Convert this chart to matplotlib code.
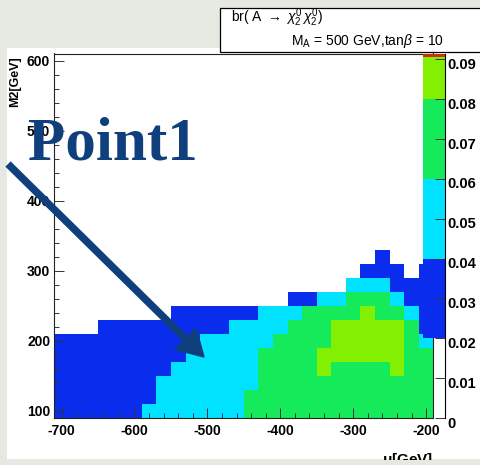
import numpy as np
import matplotlib
matplotlib.use("Agg")
import matplotlib.pyplot as plt
from matplotlib.colors import ListedColormap, BoundaryNorm
from matplotlib.patches import Rectangle, Polygon
from matplotlib.lines import Line2D
from matplotlib.transforms import ScaledTranslation

# ---------------- data ----------------
mu_centers = [-700, -680, -660, -640, -620, -600, -580, -560, -540, -520,
              -500, -480, -460, -440, -420, -400, -380, -360, -340, -320,
              -300, -280, -260, -240, -220, -200]
m2_centers = [100, 120, 140, 160, 180, 200, 220, 240, 260, 280,
              300, 320, 340, 360, 380, 400, 420, 440, 460, 480,
              500, 520, 540, 560, 580, 600]
# estimated branching ratio per colour band
band_value = {".": np.nan, "B": 0.030, "C": 0.050, "G": 0.070, "Y": 0.085}
# rows from M2 = 100 (bottom) upward, columns from mu = -700 to -200
br_rows = [
    "BBBBBBCCCCCCCGGGGGGGGGGGGG",
    "BBBBBBBCCCCCCGGGGGGGGGGGGG",
    "BBBBBBBCCCCCCCGGGGGGGGGGGG",
    "BBBBBBBBCCCCCCGGGGYGGGGYGG",
    "BBBBBBBBBCCCCCGGGGYYYYYYGG",
    "BBBBBBBBBBCCCCCGGGGYYYYYGC",
    "...BBBBBBBBBCCCCGGGYYYYYGB",
    "........BBBBBBCCCGGGGYGGCB",
    "................BBCCGGGCBB",
    "....................CCCBBB",
    ".....................BBB.B",
    "......................B...",
] + ["." * 26] * 14

cb_levels = [0.0, 0.02, 0.04, 0.06, 0.08, 0.0905, 0.0915]
cb_colors = ["#0a2ced", "#00e2ff", "#14ea5a", "#82f000", "#c83200"]
x_ticks = [-700, -600, -500, -400, -300, -200]
y_ticks = [100, 200, 300, 400, 500, 600]
cb_ticks = [0.0, 0.01, 0.02, 0.03, 0.04, 0.05, 0.06, 0.07, 0.08, 0.09]
cb_ticklabels = ["0", "0.01", "0.02", "0.03", "0.04", "0.05", "0.06", "0.07", "0.08", "0.09"]

# ---------------- style ----------------
plt.rcParams["font.family"] = ["Liberation Sans", "DejaVu Sans"]
plt.rcParams["mathtext.fontset"] = "custom"
plt.rcParams["mathtext.rm"] = "Liberation Sans"
plt.rcParams["mathtext.it"] = "Liberation Sans:italic"
plt.rcParams["mathtext.bf"] = "Liberation Sans:bold"

W, H, DPI = 481, 465, 100
BG = "#e6e9e2"
fig = plt.figure(figsize=(W / DPI, H / DPI), dpi=DPI, facecolor=BG)


def fp(x, y):
    return (x / W, 1 - y / H)


# white canvas area and title box
fig.add_artist(Rectangle(fp(7, 459), (W - 7) / W, (459 - 48) / H, transform=fig.transFigure,
                         facecolor="white", edgecolor="none", zorder=-10))
fig.add_artist(Rectangle(fp(220, 51.7), 270 / W, (51.7 - 8.3) / H, transform=fig.transFigure,
                         facecolor="white", edgecolor="black", lw=0.9, zorder=1))

# main axes
L, R, T, B = 54.3, 433.4, 53.5, 418.0
ax = fig.add_axes([L / W, 1 - B / H, (R - L) / W, (B - T) / H])
mu_c = np.array(mu_centers, float)
m2_c = np.array(m2_centers, float)
mu_edges = np.concatenate([[mu_c[0] - 10], mu_c + 10])
m2_edges = np.concatenate([[m2_c[0] - 10], m2_c + 10])
br = np.array([[band_value[c] for c in row] for row in br_rows])
cmap = ListedColormap(cb_colors)
norm = BoundaryNorm(cb_levels[1:], cmap.N)
ax.pcolormesh(mu_edges, m2_edges, np.ma.masked_invalid(br), cmap=cmap, norm=norm)
ax.set_xlim(mu_edges[0], mu_edges[-1])
ax.set_ylim(m2_edges[0], m2_edges[-1])
ax.set_xticks(x_ticks)
ax.set_yticks(y_ticks)
ax.set_xticks(np.arange(-700, -199, 20), minor=True)
ax.set_yticks(np.arange(100, 601, 20), minor=True)
ax.set_xticklabels([str(v) for v in x_ticks], fontweight="bold", fontsize=10)
ax.set_yticklabels([str(v) for v in y_ticks], fontweight="bold", fontsize=10)
ax.tick_params(which="major", direction="in", length=7.2, width=0.7, pad=3, color="#333333")
ax.tick_params(which="minor", direction="in", length=3.6, width=0.7, color="#333333")
ax.tick_params(axis="x", pad=4)
for s in ax.spines.values():
    s.set_linewidth(0.8)
    s.set_color("#222222")

# colour palette axis
cax = fig.add_axes([423 / W, 1 - B / H, 22 / W, (B - T) / H])
cb_mid = np.array([np.nan] + [(cb_levels[i] + cb_levels[i + 1]) / 2 for i in range(1, len(cb_levels) - 1)])
cax.pcolormesh([0, 1], cb_levels, np.ma.masked_invalid(cb_mid[:, None]), cmap=cmap, norm=norm)
cax.set_facecolor("none")
cax.set_xlim(0, 1)
cax.set_ylim(0, cb_levels[-1])
cax.set_xticks([])
cax.yaxis.tick_right()
cax.set_yticks(cb_ticks)
cax.set_yticklabels(cb_ticklabels, fontweight="bold", fontsize=10.5)
cax.tick_params(axis="y", direction="in", length=7, width=0.7, pad=2, color="#333333")
for k in ["left", "top", "bottom"]:
    cax.spines[k].set_visible(False)
cax.spines["right"].set_linewidth(0.8)
off = ScaledTranslation(0, -4 / DPI, fig.dpi_scale_trans)
for lab in cax.get_yticklabels():
    lab.set_transform(lab.get_transform() + off)

# axis titles
fig.text(*fp(433, 451), r"$\mathbf{\mu}$[GeV]", ha="right", va="top", fontsize=11,
         fontweight="bold", zorder=3)
fig.text(*fp(15, 56), "M2[GeV]", rotation=90, ha="center", va="top", fontsize=9,
         fontweight="bold", zorder=3)

# title box text
fig.text(*fp(231, 22), r"br( A $\rightarrow$ $\chi^{0}_{2}\,\chi^{0}_{2}$)", fontsize=10,
         va="baseline", ha="left", zorder=3)
fig.text(*fp(291, 45), r"M$_{\mathrm{A}}$ = 500 GeV,tan$\beta$ = 10", fontsize=10,
         va="baseline", ha="left", zorder=3)

# annotation arrow and label
ARROW_C = "#0f3f7d"
start = np.array([8.0, 164.0])
tip = np.array([204.0, 357.0])
u = (tip - start) / np.linalg.norm(tip - start)
nrm = np.array([-u[1], u[0]])
base = tip - u * 26
c1, c2 = base + nrm * 15, base - nrm * 15
shaft_end = base + u * 3
fig.add_artist(Line2D([start[0] / W, shaft_end[0] / W], [1 - start[1] / H, 1 - shaft_end[1] / H],
                      transform=fig.transFigure, color=ARROW_C, lw=5.4,
                      solid_capstyle="butt", zorder=10))
fig.add_artist(Polygon([fp(*tip), fp(*c1), fp(*c2)], closed=True, transform=fig.transFigure,
                       facecolor=ARROW_C, edgecolor=ARROW_C, zorder=10))
fig.text(*fp(28, 159), "Point1", fontsize=44, family="Liberation Serif", fontweight="bold",
         color=ARROW_C, va="baseline", ha="left", zorder=11)

# slide margin covering the cut bottom
fig.add_artist(Rectangle((0, 0), 1, (H - 460) / H, transform=fig.transFigure,
                         facecolor=BG, edgecolor="none", zorder=20))

fig.savefig("out.png", dpi=DPI, facecolor=BG)
